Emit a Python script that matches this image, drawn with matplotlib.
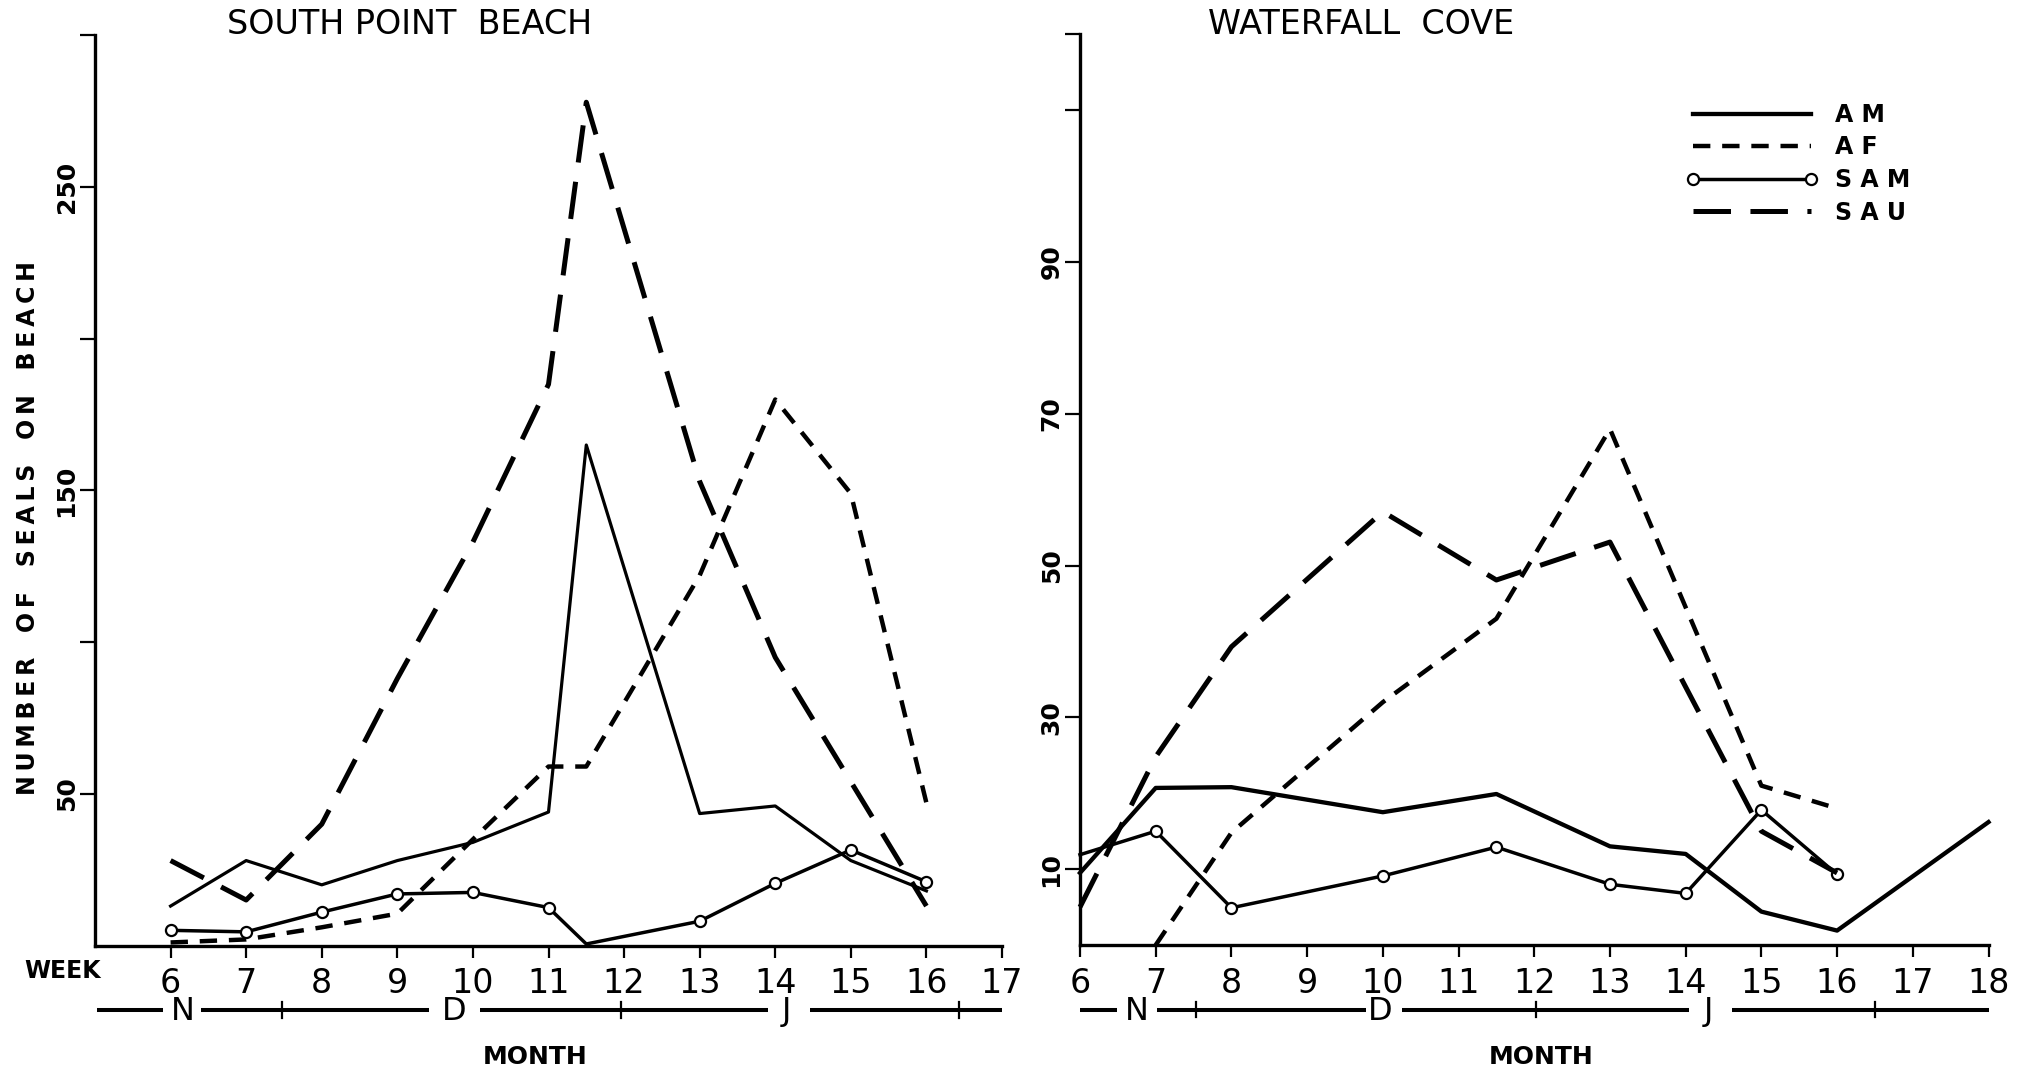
import matplotlib
matplotlib.use("Agg")
import matplotlib.pyplot as plt
from matplotlib.lines import Line2D

plt.rcParams['font.family'] = ['DejaVu Sans']
plt.rcParams['lines.scale_dashes'] = False

# South Point Beach counts by week
spb_weeks = [6, 7, 8, 9, 10, 11, 11.5, 13, 14, 15, 16]
spb_am = [13, 28, 20, 28, 34, 44, 165, 43.5, 46, 28, 18]
spb_af = [1, 2, 6, 10.5, 35, 59, 59, 122, 180, 149, 47]
spb_sam = [5, 4.5, 11, 17, 17.5, 12.5, 0.5, 8, 20.5, 31.5, 21]
spb_sau = [28, 15, 40, 88, 133, 185, 278, 153, 95, 54, 13]

# Waterfall Cove counts by week
wfc_am_weeks = [6, 7, 8, 10, 11.5, 13, 14, 15, 16, 18]
wfc_am = [9.5, 20.7, 20.8, 17.5, 19.9, 13, 12, 4.4, 1.9, 16.2]
wfc_af_weeks = [7, 8, 10, 11.5, 13, 15, 16]
wfc_af = [0, 14.8, 32, 43, 68, 21, 18]
wfc_sam_weeks = [6, 7, 8, 10, 11.5, 13, 14, 15, 16]
wfc_sam = [11.9, 15, 4.9, 9.1, 12.9, 8, 6.8, 17.8, 9.3]
wfc_sau_weeks = [6, 7, 8, 10, 11.5, 13, 14, 15, 16]
wfc_sau = [5, 24.8, 39.3, 57.1, 48.1, 53.1, 34, 15, 9.5]

series_names = ['AM', 'AF', 'SAM', 'SAU']

spb_yticks = [50, 100, 150, 200, 250, 300]
spb_ylabels = ['50', '', '150', '', '250', '']
wfc_yticks = [10, 30, 50, 70, 90, 110, 120]
wfc_ylabels = ['10', '30', '50', '70', '90', '', '']
spb_xticks = list(range(6, 18))
wfc_xticks = list(range(6, 19))

# month bar: line pieces, month boundaries and letters (in weeks)
spb_month_segs = [(5.03, 5.9), (6.4, 9.42), (10.1, 13.9), (14.46, 17.0)]
spb_month_marks = [7.48, 11.96, 16.43]
spb_month_letters = [(6.16, 'N'), (9.75, 'D'), (14.15, 'J')]
wfc_month_segs = [(6.0, 6.49), (7.02, 9.78), (10.25, 14.05), (14.61, 18.0)]
wfc_month_marks = [7.53, 12.02, 16.5]
wfc_month_letters = [(6.75, 'N'), (9.97, 'D'), (14.3, 'J')]

W, H = 2035, 1073
THIN = '\u2009'


def fx(px):
    return px / W


def fy(py):
    return 1 - py / H


def styles(heavy):
    am_lw = 3.1 if heavy else 2.3
    return {
        'AM': dict(color='k', lw=am_lw, ls='-'),
        'AF': dict(color='k', lw=3.2, ls=(0, (12.5, 8.5))),
        'SAM': dict(color='k', lw=2.5, ls='-', marker='o', ms=8,
                    mfc='white', mec='k', mew=1.6),
        'SAU': dict(color='k', lw=3.6, ls=(0, (27, 14))),
    }


def setup(ax, xlim, ylim, yticks, ylabels, xticks):
    ax.set_xlim(*xlim)
    ax.set_ylim(*ylim)
    for s in ['top', 'right']:
        ax.spines[s].set_visible(False)
    for s in ['left', 'bottom']:
        ax.spines[s].set_linewidth(2.4)
    ax.set_yticks(yticks, ylabels)
    ax.set_xticks(xticks, [str(w) for w in xticks])
    ax.tick_params(axis='y', length=10.8, width=1.6, pad=1,
                   labelrotation=90, labelsize=18)
    for lab in ax.get_yticklabels():
        lab.set_fontweight('bold')
        lab.set_va('center')
    ax.tick_params(axis='x', length=8.6, width=1.6, pad=7, labelsize=24)


def month_bar(ax, segs, marks, letters):
    tr = ax.get_xaxis_transform()
    bar_y = -0.071
    for a, b in segs:
        ax.plot([a, b], [bar_y, bar_y], transform=tr, color='k', lw=2.9,
                clip_on=False, solid_capstyle='butt')
    for m in marks:
        ax.plot([m, m], [bar_y - 0.0085, bar_y + 0.0085], transform=tr,
                color='k', lw=1.6, clip_on=False)
    for x, s in letters:
        ax.text(x, bar_y - 0.002, s, transform=tr, ha='center', va='center',
                fontsize=23)


fig = plt.figure(figsize=(W / 100, H / 100), dpi=100)
fig.patch.set_facecolor('white')

ax1 = fig.add_axes([fx(95), fy(945.5), 907 / W, 910 / H])
ax2 = fig.add_axes([fx(1080), fy(945), 908.5 / W, 910.6 / H])

# South Point Beach
st = styles(False)
ax1.plot(spb_weeks, spb_am, clip_on=False, **st['AM'])
ax1.plot(spb_weeks, spb_af, clip_on=False, **st['AF'])
ax1.plot(spb_weeks, spb_sam, clip_on=False,
         markevery=[i for i in range(len(spb_weeks)) if i != 6], **st['SAM'])
ax1.plot(spb_weeks, spb_sau, clip_on=False, **st['SAU'])
setup(ax1, (5, 17), (0, 300), spb_yticks, spb_ylabels, spb_xticks)
month_bar(ax1, spb_month_segs, spb_month_marks, spb_month_letters)

# Waterfall Cove
st = styles(True)
ax2.plot(wfc_am_weeks, wfc_am, clip_on=False, **st['AM'])
ax2.plot(wfc_af_weeks, wfc_af, clip_on=False, **st['AF'])
ax2.plot(wfc_sam_weeks, wfc_sam, clip_on=False,
         markevery=list(range(1, len(wfc_sam_weeks))), **st['SAM'])
ax2.plot(wfc_sau_weeks, wfc_sau, clip_on=False, **st['SAU'])
setup(ax2, (6, 18), (0, 120), wfc_yticks, wfc_ylabels, wfc_xticks)
month_bar(ax2, wfc_month_segs, wfc_month_marks, wfc_month_letters)

handles = [Line2D([], [], **st[name]) for name in series_names]
ax2.legend(handles, [' '.join(name) for name in series_names],
           loc='upper left', bbox_to_anchor=(fx(1686), fy(103)),
           bbox_transform=fig.transFigure, frameon=False, numpoints=2,
           handlelength=5.6, handletextpad=0.7, labelspacing=0.36,
           borderpad=0, borderaxespad=0,
           prop={'weight': 'bold', 'size': 17})

# titles and axis captions
fig.text(fx(409.5), fy(24), 'SOUTH POINT  BEACH', ha='center', va='center',
         fontsize=24)
fig.text(fx(1361), fy(24), 'WATERFALL  COVE', ha='center', va='center',
         fontsize=24)

ylabel_words = ['NUMBER', 'OF', 'SEALS', 'ON', 'BEACH']
fig.text(fx(28), fy(528), '   '.join(THIN.join(w) for w in ylabel_words),
         rotation=90, ha='center', va='center', fontsize=17, weight='bold')
fig.text(fx(62.5), fy(971.5), 'WEEK', ha='center', va='center',
         fontsize=17, weight='bold')
fig.text(fx(535), fy(1056.5), 'MONTH', ha='center', va='center',
         fontsize=18, weight='bold')
fig.text(fx(1541), fy(1056.5), 'MONTH', ha='center', va='center',
         fontsize=18, weight='bold')

fig.savefig('out.png', dpi=100, facecolor='white')
